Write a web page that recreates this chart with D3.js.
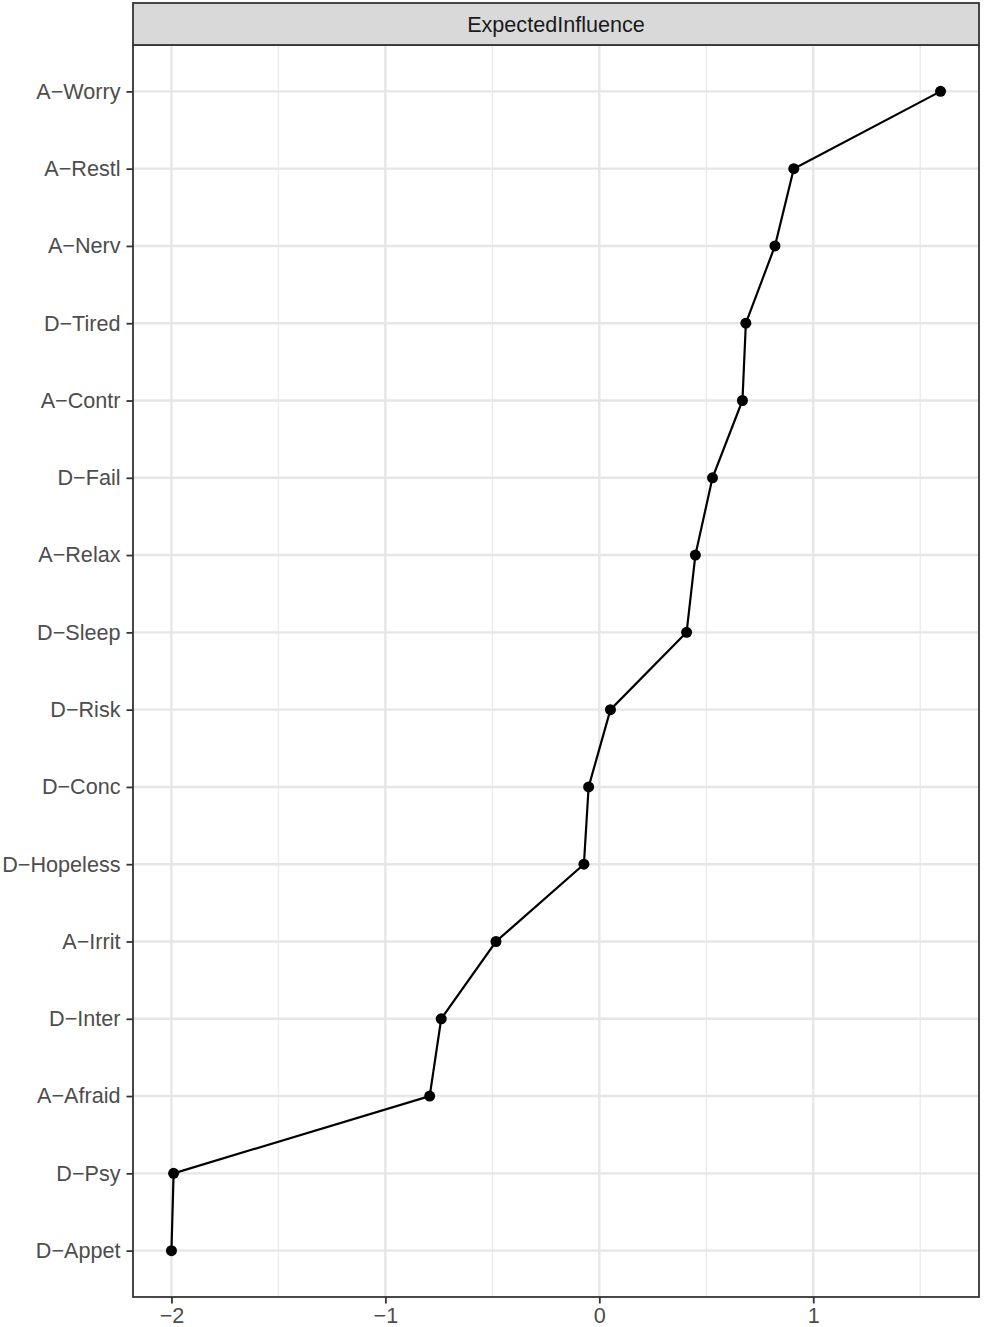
<!DOCTYPE html>
<html>
<head>
<meta charset="utf-8">
<script src="https://cdn.jsdelivr.net/npm/d3@7"></script>
<style>
  html, body { margin: 0; padding: 0; background: #fff; }
  svg { display: block; font-family: "Liberation Sans", Arial, sans-serif; }
</style>
</head>
<body>
<svg id="chart"></svg>
<script>
(function() {

	// DATA (top to bottom)
	var nodes = ['A−Worry', 'A−Restl', 'A−Nerv', 'D−Tired', 'A−Contr', 'D−Fail', 'A−Relax', 'D−Sleep',
		'D−Risk', 'D−Conc', 'D−Hopeless', 'A−Irrit', 'D−Inter', 'A−Afraid', 'D−Psy', 'D−Appet'];
	var influence = [1.595, 0.909, 0.821, 0.685, 0.669, 0.529, 0.449, 0.408,
		0.052, -0.050, -0.072, -0.483, -0.739, -0.793, -1.99, -2.00];
	var xTicks = [-2, -1, 0, 1];
	var xMinor = [-1.5, -0.5, 0.5, 1.5];
	var stripLabel = 'ExpectedInfluence';

	// LAYOUT
	var W = 986, H = 1327;
	var panel = { left: 133, right: 979, top: 45, bottom: 1297 };
	var stripTop = 3;
	var fontSize = 21.6;

	var svg = d3.select('#chart').attr('width', W).attr('height', H);

	var data = nodes.map(function(n, i) { return { node: n, value: influence[i] }; });

	// SCALES (ggplot style 5% expansion on continuous, 0.6 on discrete)
	var ext = d3.extent(influence);
	var pad = (ext[1] - ext[0]) * 0.05;
	var x = d3.scaleLinear()
		.domain([ext[0] - pad, ext[1] + pad])
		.range([panel.left, panel.right]);

	var y = d3.scalePoint()
		.domain(nodes)
		.range([panel.top, panel.bottom])
		.padding(0.6);

	// GRID
	var grid = svg.append('g').attr('class', 'grid');

	grid.selectAll('.minor-x')
		.data(xMinor)
		.enter().append('line')
		.attr('x1', function(d) { return x(d); })
		.attr('x2', function(d) { return x(d); })
		.attr('y1', panel.top).attr('y2', panel.bottom)
		.attr('stroke', '#EBEBEB').attr('stroke-width', 1.4);

	grid.selectAll('.major-x')
		.data(xTicks)
		.enter().append('line')
		.attr('x1', function(d) { return x(d); })
		.attr('x2', function(d) { return x(d); })
		.attr('y1', panel.top).attr('y2', panel.bottom)
		.attr('stroke', '#E6E6E6').attr('stroke-width', 2.4);

	grid.selectAll('.major-y')
		.data(nodes)
		.enter().append('line')
		.attr('x1', panel.left).attr('x2', panel.right)
		.attr('y1', function(d) { return y(d); })
		.attr('y2', function(d) { return y(d); })
		.attr('stroke', '#E6E6E6').attr('stroke-width', 2.4);

	// DATA LINE + POINTS
	var line = d3.line()
		.x(function(d) { return x(d.value); })
		.y(function(d) { return y(d.node); });

	svg.append('path')
		.datum(data)
		.attr('d', line)
		.attr('fill', 'none')
		.attr('stroke', '#000')
		.attr('stroke-width', 2.2);

	svg.selectAll('.pt')
		.data(data)
		.enter().append('circle')
		.attr('class', 'pt')
		.attr('cx', function(d) { return x(d.value); })
		.attr('cy', function(d) { return y(d.node); })
		.attr('r', 5.5)
		.attr('fill', '#000');

	// PANEL BORDER
	svg.append('rect')
		.attr('x', panel.left).attr('y', panel.top)
		.attr('width', panel.right - panel.left)
		.attr('height', panel.bottom - panel.top)
		.attr('fill', 'none')
		.attr('stroke', '#333333').attr('stroke-width', 1.8);

	// STRIP
	svg.append('rect')
		.attr('x', panel.left).attr('y', stripTop)
		.attr('width', panel.right - panel.left)
		.attr('height', panel.top - stripTop)
		.attr('fill', '#D9D9D9')
		.attr('stroke', '#333333').attr('stroke-width', 1.8);

	svg.append('text')
		.attr('x', (panel.left + panel.right) / 2)
		.attr('y', (stripTop + panel.top) / 2)
		.attr('dy', '0.36em')
		.attr('text-anchor', 'middle')
		.attr('font-size', fontSize)
		.attr('fill', '#1A1A1A')
		.text(stripLabel);

	// AXES
	var axisX = d3.axisBottom(x)
		.tickValues(xTicks)
		.tickSize(6.5)
		.tickPadding(4)
		.tickFormat(function(d) { return d < 0 ? '−' + Math.abs(d) : d; });

	var gx = svg.append('g')
		.attr('transform', 'translate(0,' + panel.bottom + ')')
		.call(axisX);

	var axisY = d3.axisLeft(y)
		.tickSize(6.5)
		.tickPadding(6);

	var gy = svg.append('g')
		.attr('transform', 'translate(' + panel.left + ',0)')
		.call(axisY);

	[gx, gy].forEach(function(g) {
		g.select('.domain').remove();
		g.selectAll('.tick line').attr('stroke', '#333333').attr('stroke-width', 1.8);
		g.selectAll('.tick text')
			.attr('font-size', fontSize)
			.attr('font-family', '"Liberation Sans", Arial, sans-serif')
			.attr('fill', '#4D4D4D');
	});

})();
</script>
</body>
</html>
